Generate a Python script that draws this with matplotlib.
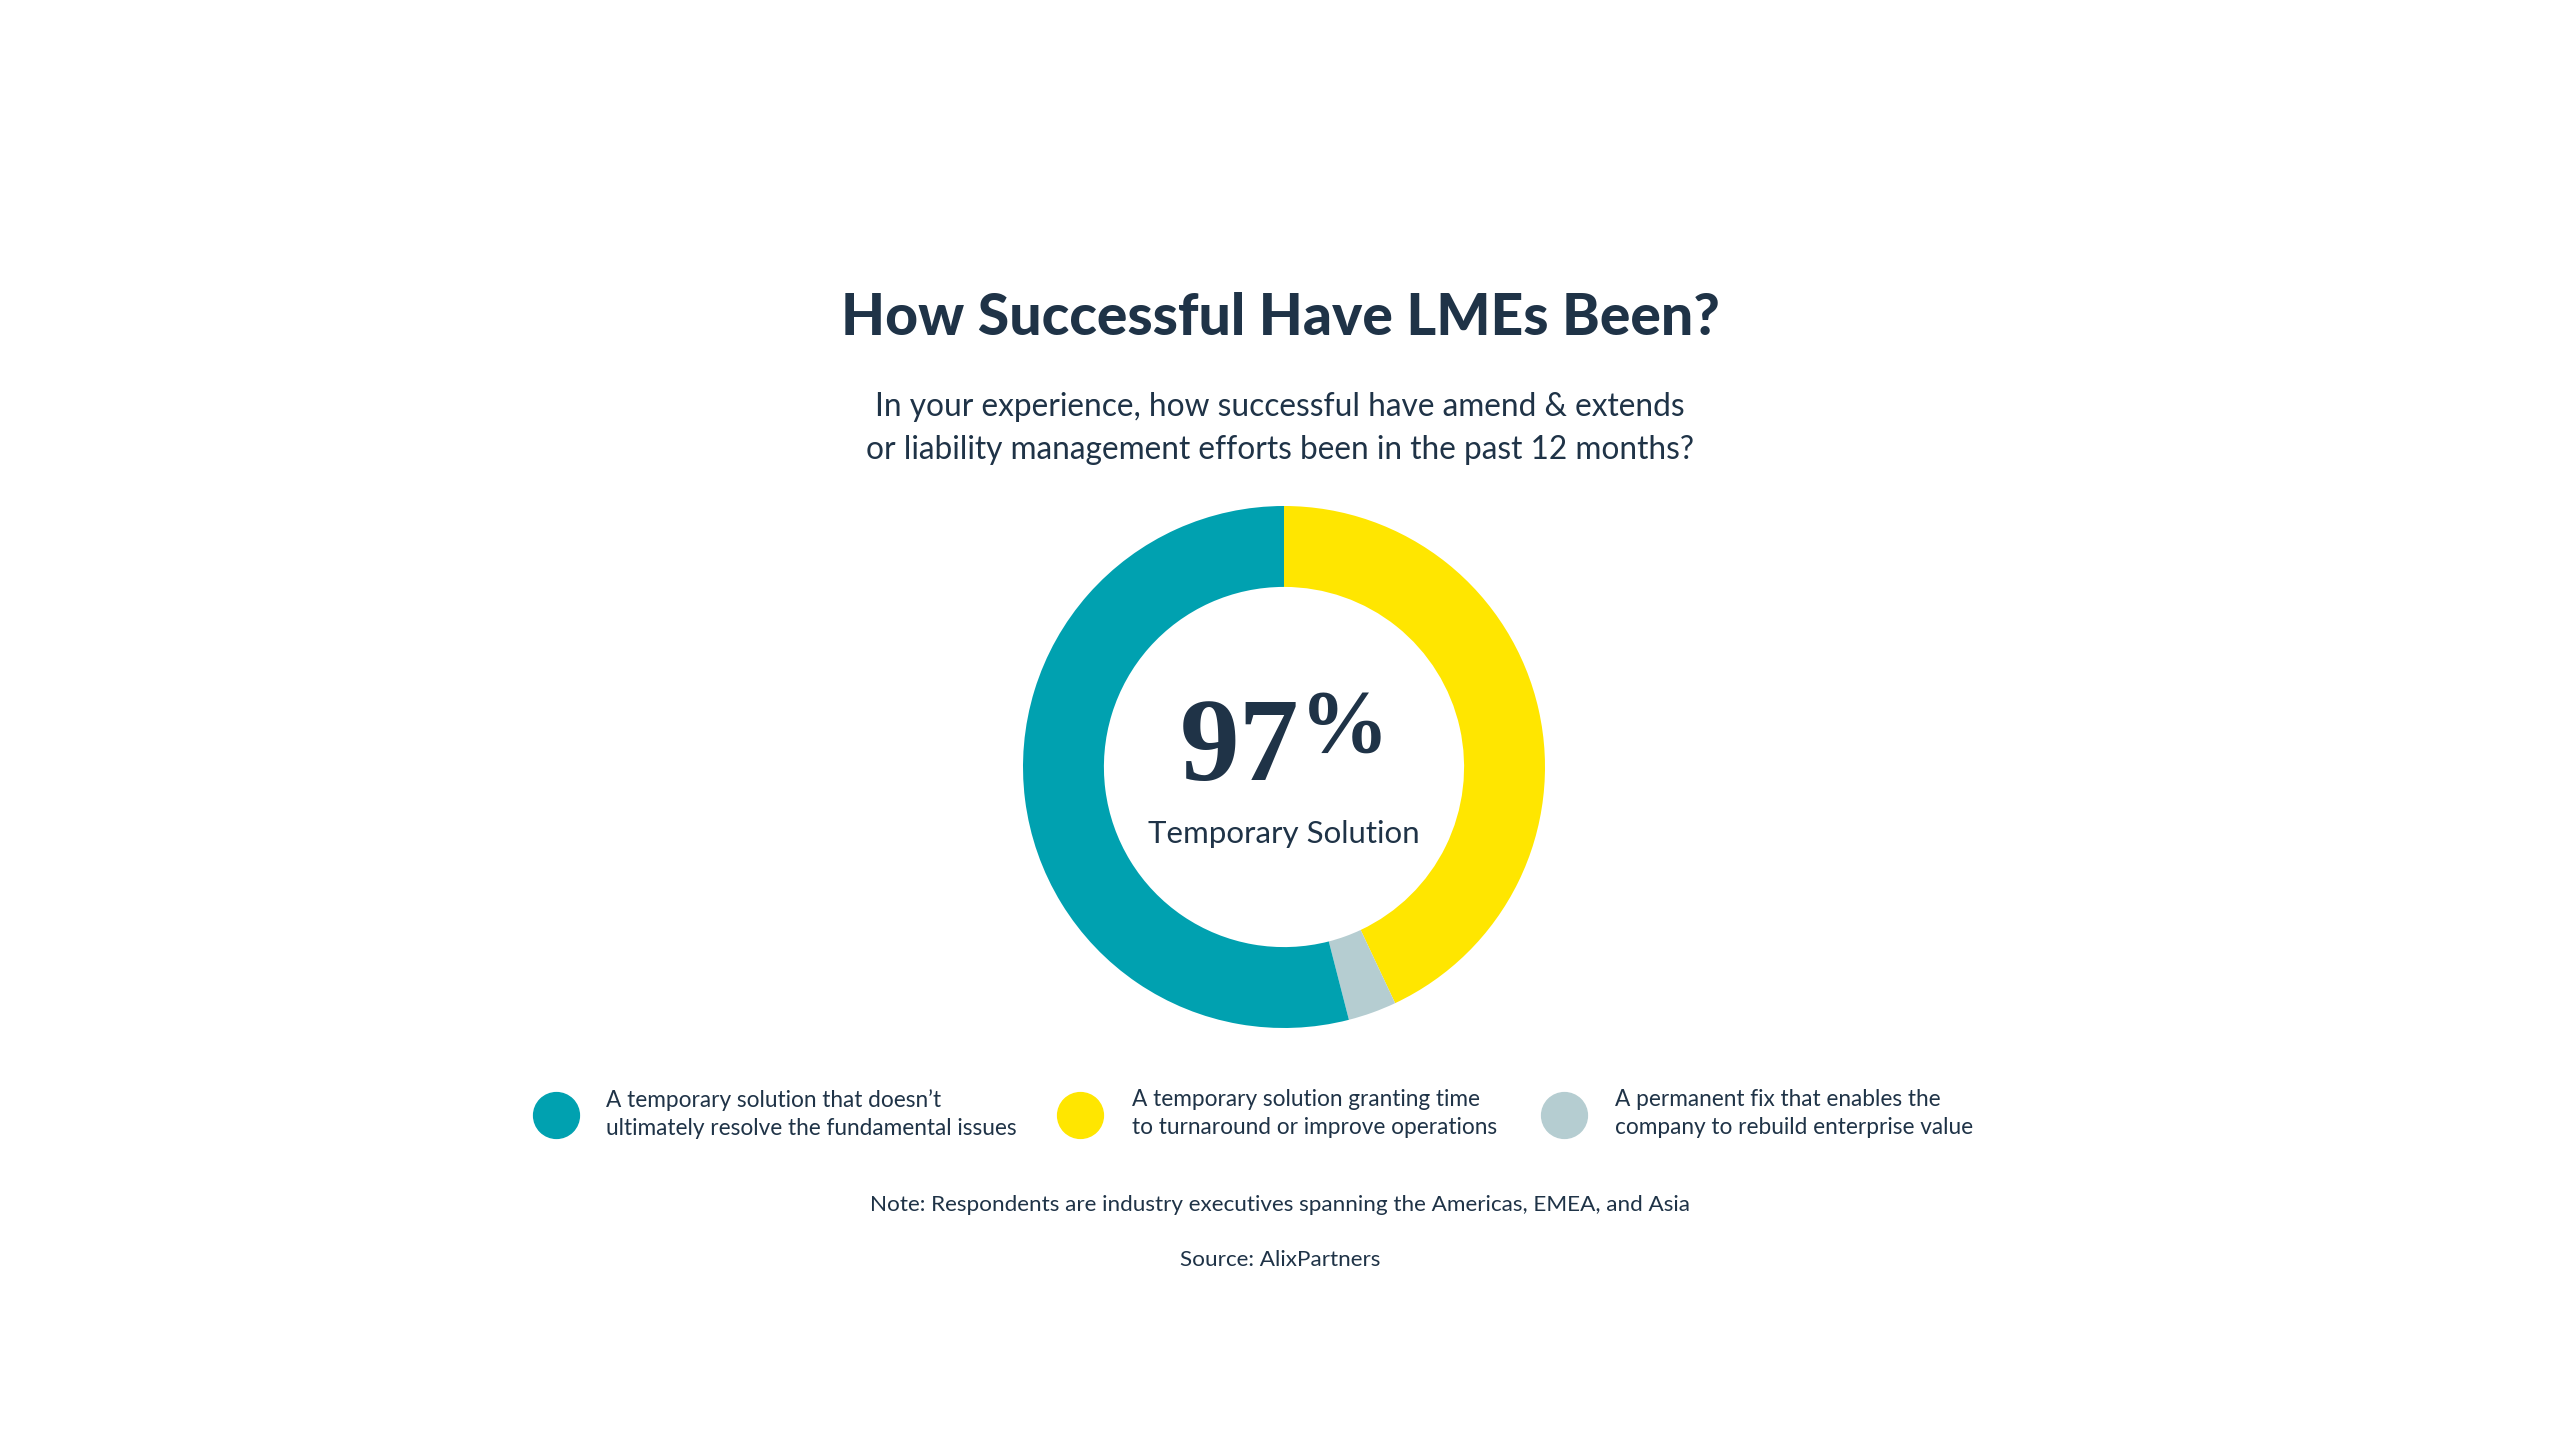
import matplotlib.pyplot as plt

plt.rcParams['font.family'] = ['Lato', 'DejaVu Sans']

# donut data (percent of respondents), drawn clockwise from 12 o'clock
labels = ['A temporary solution granting time\nto turnaround or improve operations',
          'A permanent fix that enables the\ncompany to rebuild enterprise value',
          'A temporary solution that doesn\u2019t\nultimately resolve the fundamental issues']
values = [43, 3, 54]
colors = ['#FFE600', '#B5CDD1', '#00A1B0']

# legend order as shown left to right
legend_order = [2, 0, 1]

navy = '#1F3347'

fig = plt.figure(figsize=(25.6, 14.4), dpi=100)
fig.patch.set_facecolor('white')

# donut
r = 261
cx, cy = 1284, 767
ax = fig.add_axes([(cx - r) / 2560, (1440 - cy - r) / 1440, 2 * r / 2560, 2 * r / 1440])
ax.pie(values, colors=colors, startangle=90, counterclock=False,
       wedgeprops=dict(width=0.31, edgecolor='none'))
ax.set_xlim(-1, 1)
ax.set_ylim(-1, 1)
ax.set_aspect('equal')
ax.axis('off')

# headline numbers in the middle
ax.text(0.06, 0.06, '97', ha='right', va='center', fontsize=86, fontweight='bold',
        family='Liberation Serif', color=navy)
ax.text(0.06, 0.145, '%', ha='left', va='center', fontsize=64, fontweight='bold',
        family='Liberation Serif', color=navy)
ax.text(0, -0.255, 'Temporary Solution', ha='center', va='center', fontsize=22.5, color=navy)

fig.text(0.5, 0.7785, 'How Successful Have LMEs Been?', ha='center', va='center',
         fontsize=41, fontweight='black', color=navy)
fig.text(0.5, 0.7025, 'In your experience, how successful have amend & extends\n'
         'or liability management efforts been in the past 12 months?',
         ha='center', va='center', fontsize=22.8, color=navy, linespacing=1.55)

# legend
marker_x = [0.217, 0.422, 0.611]
text_x = [0.2366, 0.442, 0.631]
for i, k in enumerate(legend_order):
    fig.lines.append(plt.Line2D([marker_x[i]], [0.2256], marker='o', markersize=33,
                                color=colors[k], transform=fig.transFigure))
    fig.text(text_x[i], 0.2265, labels[k], ha='left', va='center', fontsize=16.3,
             color=navy, linespacing=1.4)

fig.text(0.5, 0.163, 'Note: Respondents are industry executives spanning the Americas, EMEA, and Asia',
         ha='center', va='center', fontsize=16.2, color=navy)
fig.text(0.5, 0.125, 'Source: AlixPartners', ha='center', va='center', fontsize=16.2, color=navy)

fig.savefig('out.png', dpi=100, facecolor='white')
